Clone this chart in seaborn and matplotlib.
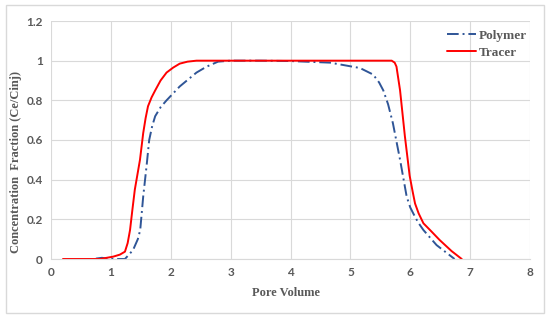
import numpy as np
import pandas as pd
import seaborn as sns
import matplotlib.pyplot as plt
from matplotlib.patches import Rectangle
from matplotlib.lines import Line2D

# Data
tracer_x = [0.2, 0.82, 1.04, 1.15, 1.235, 1.28, 1.32, 1.36, 1.40, 1.486, 1.54, 1.58, 1.62, 1.68, 1.74, 1.83, 1.93,
            2.04, 2.15, 2.28, 2.43, 3.0, 4.0, 5.0, 5.5, 5.69, 5.74, 5.77, 5.83, 5.91, 5.99, 6.04, 6.08, 6.14,
            6.22, 6.35, 6.49, 6.69, 6.86]
tracer_y = [0.0, 0.0, 0.012, 0.022, 0.037, 0.08, 0.146, 0.25, 0.35, 0.5, 0.635, 0.71, 0.77, 0.815, 0.85, 0.90, 0.94,
            0.965, 0.985, 0.995, 1.0, 1.0, 1.0, 1.0, 1.0, 1.0, 0.99, 0.97, 0.85, 0.62, 0.42, 0.34, 0.28, 0.23,
            0.18, 0.14, 0.096, 0.04, 0.0]

polymer_x = [0.75, 0.85, 0.95, 1.05, 1.235, 1.37, 1.45, 1.49, 1.54, 1.6, 1.64, 1.69, 1.74, 1.83, 1.93, 2.15, 2.43, 2.6,
             2.79, 3.0, 3.5, 4.0, 4.66, 5.16, 5.38, 5.48, 5.55, 5.63, 5.71, 5.83, 5.94, 6.0, 6.05, 6.13, 6.22, 6.44, 6.74]
polymer_y = [0.002, 0.006, 0.002, 0.0, 0.0, 0.045, 0.10, 0.146, 0.315, 0.48, 0.60, 0.67, 0.72, 0.765, 0.80, 0.87, 0.94, 0.97,
             0.995, 1.0, 1.0, 0.998, 0.99, 0.963, 0.93, 0.89, 0.85, 0.78, 0.685, 0.5, 0.315, 0.26, 0.23, 0.185, 0.146, 0.07, 0.0]

x_ticks = [0, 1, 2, 3, 4, 5, 6, 7, 8]
y_ticks = [0, 0.2, 0.4, 0.6, 0.8, 1.0, 1.2]
y_tick_labels = ["0", "0.2", "0.4", "0.6", "0.8", "1", "1.2"]

df = pd.concat([
    pd.DataFrame({"x": polymer_x, "y": polymer_y, "series": "Polymer"}),
    pd.DataFrame({"x": tracer_x, "y": tracer_y, "series": "Tracer"}),
], ignore_index=True)

sns.set_theme(style="white")
fig = plt.figure(figsize=(5.5, 3.2), dpi=100)
ax = fig.add_axes([51/550, 1-259/320, 479/550, 238/320])

sns.lineplot(data=df, x="x", y="y", hue="series", style="series",
             palette={"Polymer": "#2F5597", "Tracer": "#FF0000"},
             dashes={"Polymer": (6, 2, 1, 2), "Tracer": ""},
             sort=False, estimator=None, linewidth=1.4, ax=ax, legend=False)
for ln in ax.get_lines():
    ln.set_solid_joinstyle("round")
    ln.set_dash_joinstyle("round")

ax.set_xlim(0, 8)
ax.set_ylim(0, 1.2)
ax.set_xticks(x_ticks)
ax.set_yticks(y_ticks)
ax.set_yticklabels(y_tick_labels)
ax.grid(True, color="#D9D9D9", linewidth=0.8)
ax.set_axisbelow(True)
for s in ["top", "right", "left"]:
    ax.spines[s].set_visible(False)
ax.spines["bottom"].set_color("#D9D9D9")
ax.spines["bottom"].set_linewidth(0.8)
ax.tick_params(axis="both", length=0, pad=6, colors="#595959", labelsize=8.5)
for lab in ax.get_xticklabels() + ax.get_yticklabels():
    lab.set_fontfamily("Lato")
    lab.set_fontweight("bold")
    lab.set_color("#595959")

serif = {"family": "Liberation Serif", "weight": "bold", "size": 9, "color": "#595959"}
ax.set_xlabel("")
ax.set_ylabel("")
fig.text(286/550, 1-293/320, "Pore Volume", ha="center", va="center", fontdict=serif)
fig.text(16/550, 1-162/320, "Concentration  Fraction (Ce/Cinj)", ha="center", va="center",
         rotation=90, fontdict=serif)

# legend
handles = [Line2D([], [], color="#2F5597", linestyle=(0, (6, 2, 1, 2)), linewidth=1.4),
           Line2D([], [], color="#FF0000", linewidth=1.4)]
leg = ax.legend(handles, ["Polymer", "Tracer"], loc="upper left", bbox_to_anchor=(0.815, 0.985),
                frameon=False, prop={"family": "Liberation Serif", "weight": "bold", "size": 9.5},
                handlelength=2.2, handletextpad=0.2, labelspacing=0.35, borderaxespad=0)
for t in leg.get_texts():
    t.set_color("#595959")

fig.patches.append(Rectangle((6/550, 1-313/320), 538/550, 308/320, transform=fig.transFigure,
                             fill=False, edgecolor="#D9D9D9", linewidth=1))

fig.savefig("out.png", dpi=100)
